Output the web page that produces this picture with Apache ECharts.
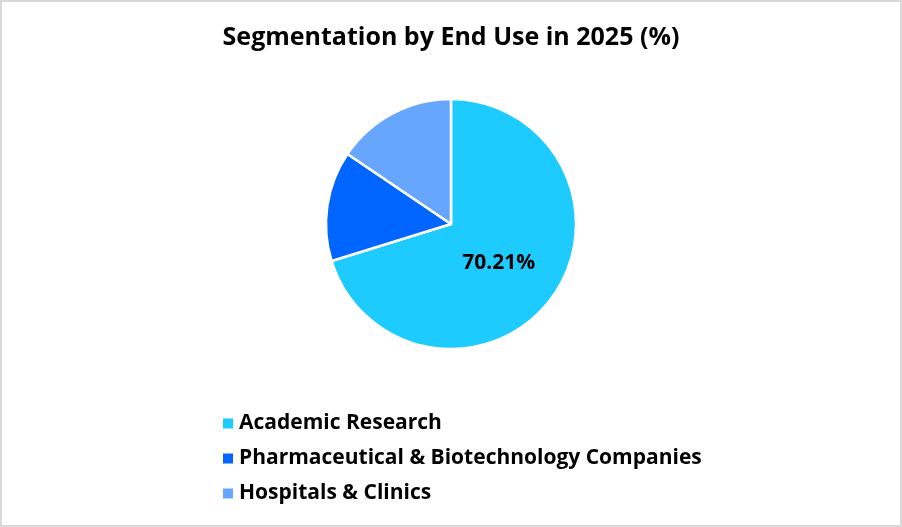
<!DOCTYPE html>
<html>
<head>
<meta charset="utf-8">
<script src="https://cdn.jsdelivr.net/npm/echarts@6/dist/echarts.min.js"></script>
<style>
  html, body { margin: 0; padding: 0; background: #fff; }
  #chartBox { width: 902px; height: 527px; box-sizing: border-box; border: 2px solid #d9d9d9; }
</style>
</head>
<body>
<div id="chartBox"></div>
<script>
// 分类与数值
let categories = ['Academic Research', 'Pharmaceutical & Biotechnology Companies', 'Hospitals & Clinics'];
let shares = [70.21, 14.25, 15.54];
let colors = ['#1ecbfe', '#0066ff', '#66a6ff'];
let labelShown = [true, false, false];

let myChart = echarts.init(document.getElementById('chartBox'));
let fontName = '"Open Sans", sans-serif';

let option = {
  title: {
    text: 'Segmentation by End Use in 2025 (%)',
    left: 'center',
    top: 18,
    textStyle: {
      color: '#000',
      fontFamily: fontName,
      fontWeight: 'bold',
      fontSize: 25
    }
  },
  color: colors,
  legend: {
    orient: 'vertical',
    left: 214,
    top: 406,
    itemWidth: 12,
    itemHeight: 12,
    itemGap: 14,
    icon: 'rect',
    textStyle: {
      color: '#000',
      fontFamily: fontName,
      fontWeight: 'bold',
      fontSize: 21
    },
    data: categories
  },
  series: [
    {
      type: 'pie',
      center: [449, 222],
      radius: 125,
      startAngle: 90,
      clockwise: true,
      animation: false,
      itemStyle: { borderColor: '#fff', borderWidth: 2.5 },
      label: {
        position: 'inside',
        offset: [-5, 0],
        color: '#000',
        fontFamily: fontName,
        fontWeight: 'bold',
        fontSize: 21,
        formatter: function (p) {
          return p.value.toFixed(2) + '%';
        }
      },
      labelLine: { show: false },
      data: categories.map(function (name, i) {
        return { name: name, value: shares[i], label: { show: labelShown[i] } };
      })
    }
  ]
};
myChart.setOption(option);
</script>
</body>
</html>
